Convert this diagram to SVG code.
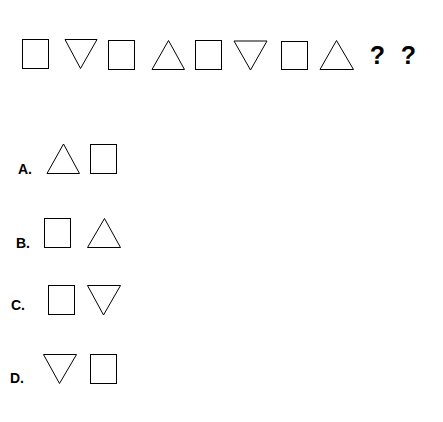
<svg xmlns="http://www.w3.org/2000/svg" width="443" height="422" viewBox="0 0 443 422">
<style>
.s{fill:none;stroke:#000;stroke-width:1}
.l{font-family:"Liberation Sans",Arial,sans-serif;font-size:14px;font-weight:bold;fill:#000}
.q{font-family:"Liberation Sans",Arial,sans-serif;font-size:25px;font-weight:bold;fill:#000;text-anchor:middle}
</style>
<rect width="443" height="422" fill="#fff"/>
<g id="sequence">
<rect class="s" x="22.5" y="39.5" width="26" height="29"/>
<polygon class="s" points="65,39.5 97,39.5 80.5,68.5"/>
<rect class="s" x="108.5" y="40.5" width="26" height="29"/>
<polygon class="s" points="168.5,40.5 152,69.5 184.5,69.5"/>
<rect class="s" x="195.5" y="40.5" width="26" height="29"/>
<polygon class="s" points="234,41 267,41 250.5,70"/>
<rect class="s" x="281.5" y="41.5" width="26" height="28"/>
<polygon class="s" points="336.5,40.5 320,69.5 353.5,69.5"/>
<text class="q" x="377.5" y="64">?</text>
<text class="q" x="408.5" y="64">?</text>
</g>
<g id="optionA">
<text class="l" x="18" y="174">A.</text>
<polygon class="s" points="63.5,144 47,173.5 79.5,173.5"/>
<rect class="s" x="90.5" y="144.5" width="26" height="29"/>
</g>
<g id="optionB">
<text class="l" x="16" y="248">B.</text>
<rect class="s" x="44.5" y="218.5" width="26" height="29"/>
<polygon class="s" points="104.5,218.5 87.5,247.5 120.5,247.5"/>
</g>
<g id="optionC">
<text class="l" x="11" y="310">C.</text>
<rect class="s" x="48.5" y="285.5" width="26" height="29"/>
<polygon class="s" points="87.5,285.5 120.5,285.5 103.5,315"/>
</g>
<g id="optionD">
<text class="l" x="10" y="383">D.</text>
<polygon class="s" points="43.5,354.5 76.5,354.5 59.5,383.5"/>
<rect class="s" x="90.5" y="354.5" width="26" height="29"/>
</g>
<g id="connectors"></g>
</svg>
